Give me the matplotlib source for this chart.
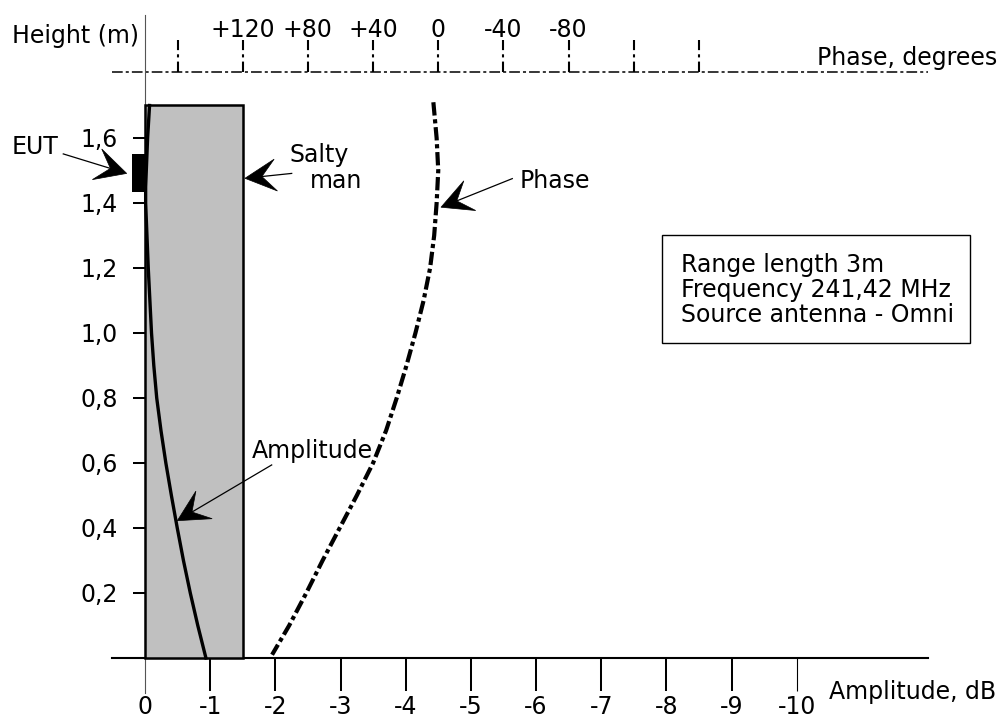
import numpy as np
import matplotlib
matplotlib.use("Agg")
import matplotlib.pyplot as plt
from matplotlib.patches import Rectangle, Polygon
from matplotlib.lines import Line2D
from matplotlib.transforms import IdentityTransform

# ---------------- data ----------------
amp_heights = [1.70, 1.60, 1.50, 1.45, 1.40, 1.30, 1.20, 1.10, 1.00, 0.90,
               0.80, 0.70, 0.60, 0.50, 0.40, 0.30, 0.20, 0.10, 0.00]
amplitude_db = [-0.07, -0.04, -0.02, -0.01, -0.01, -0.03, -0.05, -0.075, -0.10, -0.135,
                -0.18, -0.245, -0.32, -0.405, -0.495, -0.59, -0.695, -0.81, -0.935]

phase_heights = [1.71, 1.60, 1.50, 1.40, 1.30, 1.20, 1.10, 1.00, 0.90, 0.80,
                 0.70, 0.60, 0.50, 0.40, 0.30, 0.20, 0.10, 0.01]
phase_deg = [3, 1, 0, 1, 2.5, 5, 9, 14, 19.5, 25.5,
             32, 40, 50, 60.5, 71, 81, 91.5, 102]

amp_ticks = [0, -1, -2, -3, -4, -5, -6, -7, -8, -9, -10]
amp_tick_labels = ["0", "-1", "-2", "-3", "-4", "-5", "-6", "-7", "-8", "-9", "-10"]
height_ticks = [0.2, 0.4, 0.6, 0.8, 1.0, 1.2, 1.4, 1.6]
height_tick_labels = ["0,2", "0,4", "0,6", "0,8", "1,0", "1,2", "1,4", "1,6"]
phase_ticks = [160, 120, 80, 40, 0, -40, -80, -120, -160]
phase_labeled = [120, 80, 40, 0, -40, -80]
phase_labels = ["+120", "+80", "+40", "0", "-40", "-80"]

man_height = 1.70
man_width_db = -1.5
eut_bottom, eut_top, eut_depth = 1.435, 1.55, 0.2
info_lines = ["Range length 3m", "Frequency 241,42 MHz", "Source antenna - Omni"]

# phase scale drawn on the amplitude axis: 0 deg at -4.5 dB, 40 deg per dB
PHASE_ZERO_DB = -4.5
DEG_PER_DB = 40.0


def phase_to_x(p):
    return PHASE_ZERO_DB + np.asarray(p, dtype=float) / DEG_PER_DB


plt.rcParams["font.family"] = ["DejaVu Sans"]
FS = 17

fig = plt.figure(figsize=(10.03, 7.2), dpi=100)
ax = fig.add_axes([0, 0, 1, 1])
ax.set_xlim(2.225, -13.166)
ax.set_ylim(-0.1908, 2.0246)
ax.set_autoscale_on(False)

for s in ("top", "right"):
    ax.spines[s].set_visible(False)
ax.spines["left"].set_position(("data", 0))
ax.spines["left"].set_bounds(-0.107, 1.978)
ax.spines["left"].set_linewidth(0.8)
ax.spines["left"].set_color("#555555")
ax.spines["bottom"].set_position(("data", 0))
ax.spines["bottom"].set_bounds(-12.02, 0.511)
ax.spines["bottom"].set_linewidth(1.5)

ax.set_xticks(amp_ticks, amp_tick_labels)
ax.tick_params(axis="x", direction="out", length=23.5, width=1.45, pad=3, labelsize=FS)
ax.set_yticks(height_ticks, height_tick_labels)
ax.tick_params(axis="y", direction="inout", length=18, width=1.45, pad=10.4, labelsize=FS)
xt = ax.xaxis.get_major_ticks()
xt[0].tick1line.set_visible(False)
xt[-1].tick1line.set_markeredgewidth(0.8)

# salty man and EUT
ax.add_patch(Rectangle((0, 0), man_width_db, man_height, facecolor="#c0c0c0",
                       edgecolor="black", linewidth=1.8, zorder=2.6))
ax.add_patch(Rectangle((0, eut_bottom), eut_depth, eut_top - eut_bottom,
                       facecolor="black", edgecolor="none", zorder=3))

# curves
ax.plot(amplitude_db, amp_heights, color="black", lw=2.4, zorder=4)
ax.plot(phase_to_x(phase_deg), phase_heights, color="black", lw=3.0,
        dashes=(3.2, 0.9, 1.0, 0.9), zorder=4)

# phase axis
PHASE_AXIS_H = 1.804
PHASE_TICK_TOP = 1.9015
ax.hlines(PHASE_AXIS_H, 0.511, -12.02, colors="black", lw=1.1,
          linestyles=(0, (7, 2, 2, 2)))
ax.vlines(phase_to_x(phase_ticks), PHASE_AXIS_H, PHASE_TICK_TOP, colors="black",
          lw=1.5, linestyles=(0, (5, 2, 1.5, 2)))
for p, lab in zip(phase_labeled, phase_labels):
    ax.text(float(phase_to_x(p)), 1.910, lab, ha="center", va="baseline", fontsize=FS)

# axis titles
ax.text(2.045, 1.891, "Height (m)", ha="left", va="baseline", fontsize=FS)
ax.text(-10.307, 1.825, "Phase, degrees", ha="left", va="baseline", fontsize=FS)
ax.text(-10.5, -0.127, "Amplitude, dB", ha="left", va="baseline", fontsize=FS)

# labels
ax.text(2.045, 1.551, "EUT", ha="left", va="baseline", fontsize=FS)
ax.text(-2.225, 1.527, "Salty", ha="left", va="baseline", fontsize=FS)
ax.text(-2.53, 1.445, "man", ha="left", va="baseline", fontsize=FS)
ax.text(-5.754, 1.445, "Phase", ha="left", va="baseline", fontsize=FS)
ax.text(-1.637, 0.615, "Amplitude", ha="left", va="baseline", fontsize=FS)

# info box
ax.add_patch(Rectangle((-7.928, 0.968), -4.732, 0.3335, fill=False,
                       edgecolor="black", linewidth=1.0, zorder=3))
for line, h in zip(info_lines, [1.1886, 1.1117, 1.0348]):
    ax.text(-8.22, h, line, ha="left", va="baseline", fontsize=FS)


def stealth_arrow(tail, tip, head_len=31, half_w=16, notch=17):
    T = ax.transData
    p0 = np.array(T.transform(tail))
    p1 = np.array(T.transform(tip))
    d = p1 - p0
    u = d / np.hypot(*d)
    n = np.array([-u[1], u[0]])
    base = p1 - u * head_len
    nt = p1 - u * notch
    poly = Polygon([p1, base + n * half_w, nt, base - n * half_w], closed=True,
                   facecolor="black", edgecolor="black", lw=0.5,
                   transform=IdentityTransform(), zorder=6)
    ax.add_patch(poly)
    ax.add_line(Line2D([p0[0], nt[0]], [p0[1], nt[1]], color="black", lw=0.9,
                       transform=IdentityTransform(), zorder=6))


stealth_arrow((1.254, 1.551), (0.281, 1.491))
stealth_arrow((-2.251, 1.491), (-1.534, 1.476))
stealth_arrow((-5.636, 1.475), (-4.542, 1.387))
stealth_arrow((-1.944, 0.594), (-0.496, 0.4225))

fig.savefig("out.png", dpi=100)
